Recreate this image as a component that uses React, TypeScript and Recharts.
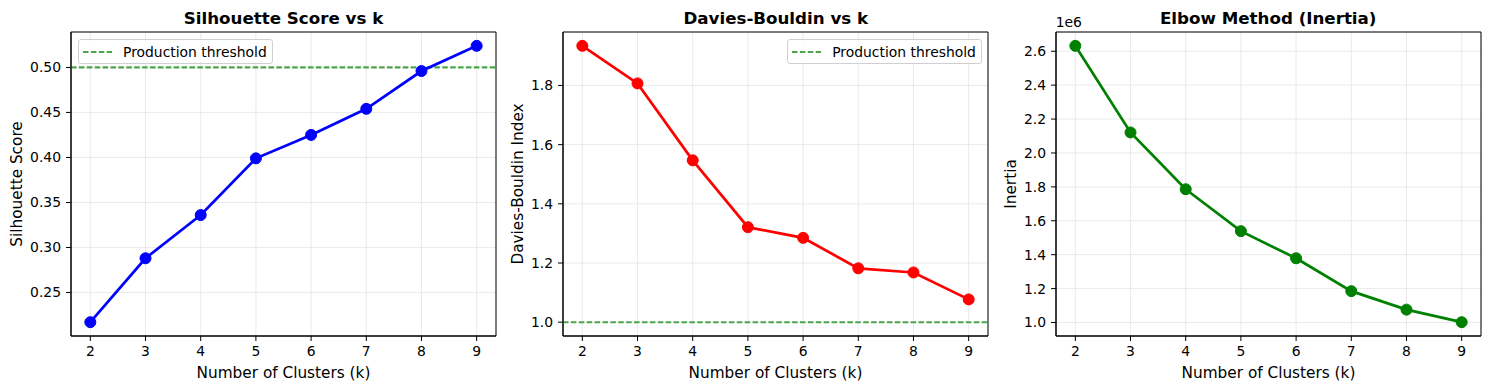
import React from 'react';
import { LineChart, Line, XAxis, YAxis, CartesianGrid, ReferenceLine, ReferenceArea, Legend } from 'recharts';

// values
const kValues = [2, 3, 4, 5, 6, 7, 8, 9];
const silhouetteScores = [0.217, 0.288, 0.336, 0.399, 0.425, 0.454, 0.496, 0.524];
const daviesBouldinScores = [1.934, 1.807, 1.547, 1.321, 1.285, 1.182, 1.168, 1.077];
const inertiaValues = [2632000, 2121000, 1786000, 1539000, 1379000, 1185000, 1076000, 1002000];

const silhouetteTicks = [0.25, 0.3, 0.35, 0.4, 0.45, 0.5];
const daviesBouldinTicks = [1.0, 1.2, 1.4, 1.6, 1.8];
const inertiaTicks = [1.0e6, 1.2e6, 1.4e6, 1.6e6, 1.8e6, 2.0e6, 2.2e6, 2.4e6, 2.6e6];

const silhouetteThreshold = 0.5;
const daviesBouldinThreshold = 1.0;

const FONT = '"DejaVu Sans", sans-serif';
const Y_W = 70;
const PLOT_W = 425;
const RIGHT = 5;
const TOP = 32;
const PLOT_H = 304;
const X_H = 54;
const THRESH_COLOR = '#4da64d';

interface PanelProps {
  left: number;
  title: string;
  values: number[];
  color: string;
  yTicks: number[];
  yFormat: (v: number) => string;
  yLabel: string;
  yLabelX: number;
  threshold?: number;
  legendSide?: 'left' | 'right';
  offsetText?: string;
}

const LegendBox = () => (
  <div
    style={{
      width: 194.5,
      height: 25,
      boxSizing: 'border-box',
      border: '1px solid #d0d0d0',
      borderRadius: 3,
      background: 'rgba(255,255,255,0.8)',
      display: 'flex',
      alignItems: 'center',
      paddingLeft: 4,
      fontFamily: FONT,
      fontSize: 13.9,
      color: '#000',
      whiteSpace: 'nowrap',
    }}
  >
    <svg width={29} height={6} style={{ marginRight: 11 }}>
      <line x1={0} y1={3} x2={29} y2={3} stroke={THRESH_COLOR} strokeWidth={2.1} strokeDasharray="5.5 2.4" />
    </svg>
    <span>Production threshold</span>
  </div>
);

const Panel: React.FC<PanelProps> = ({
  left, title, values, color, yTicks, yFormat, yLabel, yLabelX, threshold, legendSide, offsetText,
}) => {
  const rows = kValues.map((k, i) => ({ k, v: values[i] }));
  const all = threshold !== undefined ? [...values, threshold] : values;
  const lo = Math.min(...all);
  const hi = Math.max(...all);
  const pad = (hi - lo) * 0.05;
  const yDomain: [number, number] = [lo - pad, hi + pad];
  const xPad = (kValues[kValues.length - 1] - kValues[0]) * 0.05;
  const xDomain: [number, number] = [kValues[0] - xPad, kValues[kValues.length - 1] + xPad];
  const tickStyle = { fill: '#000', fontSize: 13.9, fontFamily: FONT };
  const legendLeft = legendSide === 'right' ? Y_W + PLOT_W - 6.6 - 194.5 : Y_W + 7;

  return (
    <div style={{ position: 'absolute', left, top: 0, width: Y_W + PLOT_W + RIGHT, height: 390 }}>
      <LineChart
        width={Y_W + PLOT_W + RIGHT}
        height={390}
        data={rows}
        margin={{ top: TOP, right: RIGHT, bottom: 0, left: 0 }}
      >
        <CartesianGrid stroke="#e4e4e4" strokeWidth={0.8} />
        <XAxis
          dataKey="k"
          type="number"
          domain={xDomain}
          ticks={kValues}
          interval={0}
          allowDataOverflow
          height={X_H}
          tickSize={5}
          tickMargin={5}
          stroke="#000"
          tick={tickStyle}
          label={() => (
            <text
              x={Y_W + PLOT_W / 2}
              y={TOP + PLOT_H + 41.5}
              textAnchor="middle"
              fontFamily={FONT}
              fontSize={15.3}
              fill="#000"
            >
              Number of Clusters (k)
            </text>
          )}
        />
        <YAxis
          type="number"
          domain={yDomain}
          ticks={yTicks}
          interval={0}
          allowDataOverflow
          width={Y_W}
          tickSize={5}
          tickMargin={5}
          stroke="#000"
          tick={tickStyle}
          tickFormatter={yFormat}
          label={() => (
            <text
              x={Y_W + yLabelX}
              y={TOP + PLOT_H / 2}
              transform={`rotate(-90, ${Y_W + yLabelX}, ${TOP + PLOT_H / 2})`}
              textAnchor="middle"
              fontFamily={FONT}
              fontSize={15.3}
              fill="#000"
            >
              {yLabel}
            </text>
          )}
        />
        {threshold !== undefined && (
          <ReferenceLine
            y={threshold}
            stroke={THRESH_COLOR}
            strokeWidth={2.1}
            strokeDasharray="5.5 2.4"
          />
        )}
        <Line
          dataKey="v"
          type="linear"
          stroke={color}
          strokeWidth={2.7}
          dot={{ r: 5.5, fill: color, stroke: color, strokeWidth: 1 }}
          activeDot={false}
          isAnimationActive={false}
        />
        {/* axes frame (matplotlib spines) */}
        <ReferenceArea
          x1={xDomain[0]}
          x2={xDomain[1]}
          y1={yDomain[0]}
          y2={yDomain[1]}
          fill="none"
          fillOpacity={0}
          stroke="#000"
          strokeWidth={1}
          strokeOpacity={1}
          ifOverflow="visible"
        />
        {threshold !== undefined && (
          <Legend
            layout="horizontal"
            verticalAlign="middle"
            align="center"
            content={() => <LegendBox />}
            wrapperStyle={{ top: 39, left: legendLeft, width: 'auto', height: 'auto' }}
          />
        )}
      </LineChart>
      <div
        style={{
          position: 'absolute',
          left: Y_W,
          top: 10,
          width: PLOT_W,
          textAlign: 'center',
          fontFamily: FONT,
          fontWeight: 'bold',
          fontSize: 16.7,
          lineHeight: '16.7px',
          whiteSpace: 'nowrap',
        }}
      >
        {title}
      </div>
      {offsetText && (
        <div
          style={{
            position: 'absolute',
            left: Y_W,
            top: 15.5,
            fontFamily: FONT,
            fontSize: 13.9,
            lineHeight: '13.9px',
          }}
        >
          {offsetText}
        </div>
      )}
    </div>
  );
};

export default function App() {
  return (
    <div style={{ position: 'absolute', left: 0, top: 0, width: 1489, height: 390, background: '#fff' }}>
      <Panel
        left={1}
        title="Silhouette Score vs k"
        values={silhouetteScores}
        color="#0000ff"
        yTicks={silhouetteTicks}
        yFormat={(v) => v.toFixed(2)}
        yLabel="Silhouette Score"
        yLabelX={-49}
        threshold={silhouetteThreshold}
        legendSide="left"
      />
      <Panel
        left={493.3}
        title="Davies-Bouldin vs k"
        values={daviesBouldinScores}
        color="#ff0000"
        yTicks={daviesBouldinTicks}
        yFormat={(v) => v.toFixed(1)}
        yLabel="Davies-Bouldin Index"
        yLabelX={-40.3}
        threshold={daviesBouldinThreshold}
        legendSide="right"
      />
      <Panel
        left={985.7}
        title="Elbow Method (Inertia)"
        values={inertiaValues}
        color="#008000"
        yTicks={inertiaTicks}
        yFormat={(v) => (v / 1e6).toFixed(1)}
        yLabel="Inertia"
        yLabelX={-39.7}
        offsetText="1e6"
      />
    </div>
  );
}
